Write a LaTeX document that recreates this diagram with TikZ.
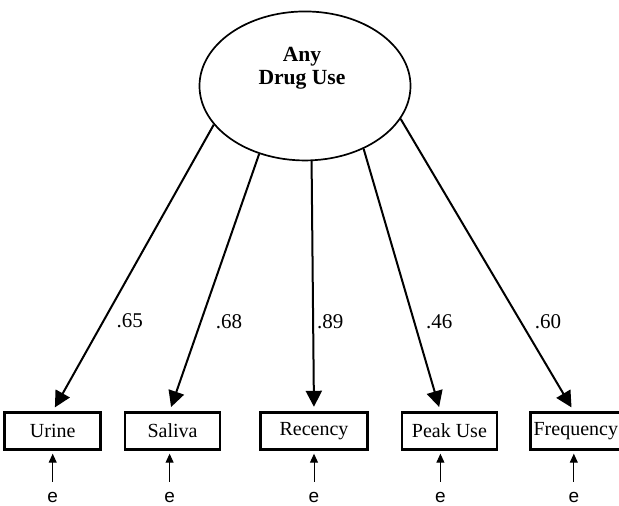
\documentclass[tikz,border=0pt]{standalone}
\usepackage{fontspec}
\setmainfont{Liberation Serif}
\newfontfamily\errfont{Liberation Sans}
\usetikzlibrary{shapes.geometric, arrows.meta, positioning}
\tikzstyle{latent} = [ellipse, draw=black, line width=0.85pt, minimum width=105.5pt, minimum height=74.5pt, inner sep=0pt]
\tikzstyle{observed} = [rectangle, draw=black, line width=1.2pt, minimum height=18.5pt, inner sep=1pt, font=\fontsize{10}{12}\selectfont]
\tikzstyle{errnode} = [inner sep=0pt, font=\errfont\fontsize{9.5}{11}\selectfont]
\tikzstyle{coef} = [inner sep=0pt, font=\fontsize{10.5}{12}\selectfont]
\tikzstyle{arrow} = [line width=1pt, -{Triangle[length=8pt, width=8pt]}, shorten >=2.25pt]
\tikzstyle{earrow} = [line width=0.5pt, -{Triangle[length=4.5pt, width=4pt]}, shorten <=5pt, shorten >=1.5pt]

\begin{document}
\begin{tikzpicture}
      \useasboundingbox (-157pt,-37pt) rectangle (152.5pt,215.5pt);
      % observed indicators
      \node[observed, minimum width=53.5pt] (recency) at (0,0) {Recency};
      \node[observed, minimum width=47.5pt, left=19pt of recency] (saliva) {Saliva};
      \node[observed, minimum width=48pt, left=11pt of saliva] (urine) {Urine};
      \node[observed, minimum width=47.5pt, right=16pt of recency] (peak) {Peak Use};
      \node[observed, minimum width=45.5pt, right=15.5pt of peak] (freq) {Frequency};
      
      % latent factor
      \node[latent, above=125pt of recency, xshift=-4.5pt,
        label={[font=\bfseries\fontsize{10.8}{11.5}\selectfont, align=center, xshift=-1.5pt, yshift=9pt]center:Any\\Drug Use}] (drug) {};
      
      % error terms
      \node[errnode, below=20.5pt of urine] (urinee) {e};
      \node[errnode, below=20.5pt of saliva, xshift=-1.5pt] (salivae) {e};
      \node[errnode, below=20.5pt of recency] (recencye) {e};
      \node[errnode, below=20.5pt of peak, xshift=-4.5pt] (peake) {e};
      \node[errnode, below=20.5pt of freq, xshift=-1pt] (freqe) {e};
      
      \draw[arrow] (drug.203.5) -- node[coef, pos=0.684, right=6pt]{.65} (urine.north -| urinee);
      \draw[arrow] (drug.236.9) -- node[coef, pos=0.651, right=7pt]{.68} (saliva.north -| salivae);
      \draw[arrow] (drug.275.3) -- node[coef, pos=0.64, right=1.5pt]{.89} (recency.north -| recencye);
      \draw[arrow] (drug.313.2) -- node[coef, pos=0.658, right=5.5pt]{.46} (peak.north -| peake);
      \draw[arrow] (drug.341.9) -- node[coef, pos=0.695, right=6.5pt]{.60} (freq.north -| freqe);
      
      \draw[earrow] (urinee.north) -- (urinee |- urine.south);
      \draw[earrow] (salivae.north) -- (salivae |- saliva.south);
      \draw[earrow] (recencye.north) -- (recencye |- recency.south);
      \draw[earrow] (peake.north) -- (peake |- peak.south);
      \draw[earrow] (freqe.north) -- (freqe |- freq.south);
    \end{tikzpicture}
\end{document}
